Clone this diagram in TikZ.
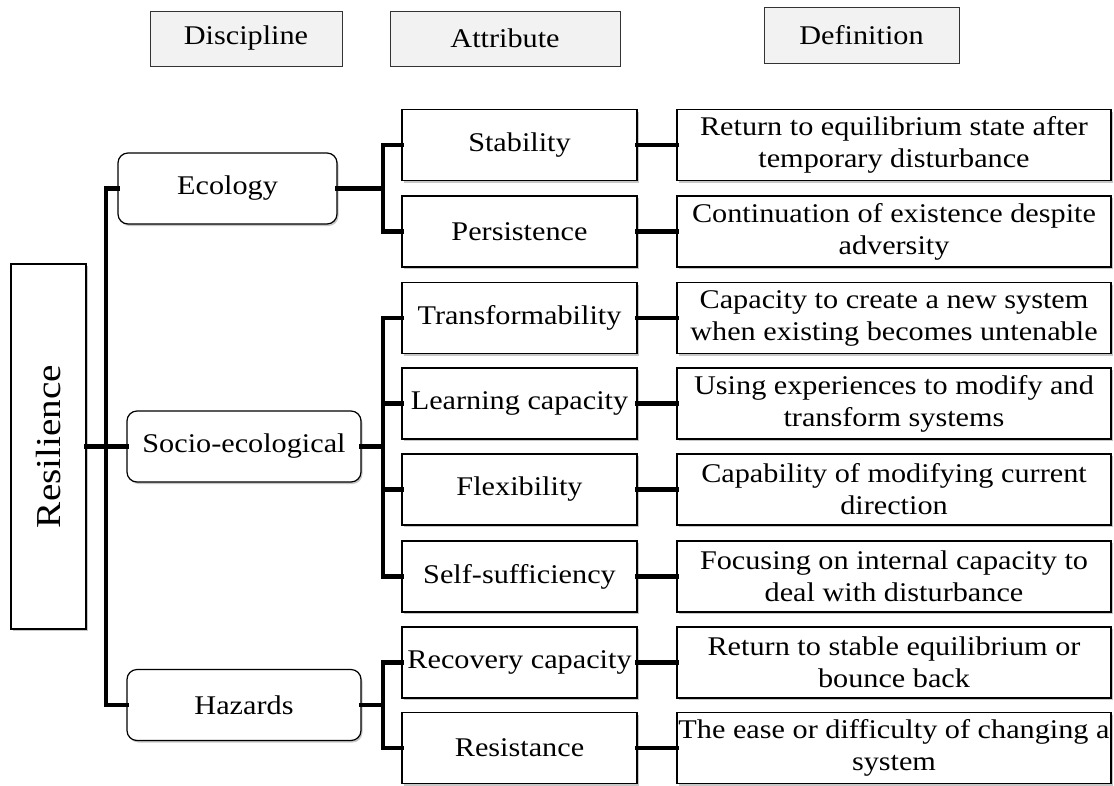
\documentclass[tikz,border=0pt]{standalone}
\usepackage{fontspec}
\setmainfont[FakeStretch=1.12]{Liberation Serif}
\usetikzlibrary{shadows}

\begin{document}
\begin{tikzpicture}[x=1pt,y=-1pt,
  every node/.style={font=\fontsize{27}{32}\selectfont, inner sep=0pt, align=center},
  boxshadow/.style={drop shadow={shadow xshift=1.5pt, shadow yshift=-2pt, opacity=0.22, fill=black}},
  hdrbox/.style={draw=black!80, fill=black!5, line width=1pt},
  discbox/.style={draw=black, fill=white, line width=1.2pt, rounded corners=10pt,
                  minimum height=71pt, boxshadow},
  attrbox/.style={draw=black, fill=white, line width=1.2pt, minimum width=235pt,
                  minimum height=71pt, boxshadow},
  defbox/.style={draw=black, fill=white, line width=1.2pt, minimum width=434pt,
                 minimum height=71pt, boxshadow},
  rootbox/.style={draw=black, fill=white, line width=1.2pt, boxshadow},
  conn/.style={line width=4.5pt, line join=miter, line cap=rect}
]
\useasboundingbox (0,0) rectangle (1114,785);

% column headings
\node[hdrbox, minimum width=192pt, minimum height=55pt] (hdisc) at (246,38.5) {Discipline};
\node[hdrbox, minimum width=230pt, minimum height=55pt] (hattr) at (505,38.5) {Attribute};
\node[hdrbox, minimum width=195pt, minimum height=56pt] (hdef) at (861.5,35) {Definition};

% branch junctions
\coordinate (trtop) at (106,188.5);
\coordinate (trbot) at (106,705);
\coordinate (jeco) at (383,188.5);
\coordinate (jsoc) at (383,446.5);
\coordinate (jhaz) at (383,705);

% root
\node[rootbox, minimum width=75pt, minimum height=365pt] (res) at (48.5,446.5) {};
\node[rotate=90, font=\fontsize{35}{38}\selectfont] (reslabel) at (res.center) {Resilience};

% disciplines
\node[discbox, minimum width=219pt] (eco) at (227.5,188.5) {Ecology};
\node[discbox, minimum width=234pt] (soc) at (244,446.5) {Socio-ecological};
\node[discbox, minimum width=234pt] (haz) at (244,705) {Hazards};

% attributes
\node[attrbox] (a1) at (519.5,145) {Stability};
\node[attrbox] (a2) at (519.5,231.5) {Persistence};
\node[attrbox] (a3) at (519.5,318) {Transformability};
\node[attrbox] (a4) at (519.5,403.5) {Learning capacity};
\node[attrbox] (a5) at (519.5,489.5) {Flexibility};
\node[attrbox] (a6) at (519.5,576.5) {Self-sufficiency};
\node[attrbox] (a7) at (519.5,662.5) {Recovery capacity};
\node[attrbox] (a8) at (519.5,748) {Resistance};

% definitions
\node[defbox] (d1) at (894,145) {Return to equilibrium state after\\temporary disturbance};
\node[defbox] (d2) at (894,231.5) {Continuation of existence despite\\adversity};
\node[defbox] (d3) at (894,318) {Capacity to create a new system\\when existing becomes untenable};
\node[defbox] (d4) at (894,403.5) {Using experiences to modify and\\transform systems};
\node[defbox] (d5) at (894,489.5) {Capability of modifying current\\direction};
\node[defbox] (d6) at (894,576.5) {Focusing on internal capacity to\\deal with disturbance};
\node[defbox] (d7) at (894,662.5) {Return to stable equilibrium or\\bounce back};
\node[defbox] (d8) at (894,748) {The ease or difficulty of changing a\\system};

% trunk: root to disciplines
\draw[conn] (eco.west) -- (trtop) -- (trbot) -- (haz.west);
\draw[conn] (res.east) -- (soc.west);

% discipline to attribute branches
\draw[conn] (eco.east) -- (jeco);
\draw[conn] (a1.west) -| (jeco) |- (a2.west);
\draw[conn] (soc.east) -- (jsoc);
\draw[conn] (a3.west) -| (jsoc) |- (a6.west);
\draw[conn] (a4.west) -- (a4.west -| jsoc);
\draw[conn] (a5.west) -- (a5.west -| jsoc);
\draw[conn] (haz.east) -- (jhaz);
\draw[conn] (a7.west) -| (jhaz) |- (a8.west);

% attribute to definition
\foreach \i in {1,...,8} {
  \draw[conn] (a\i.east) -- (d\i.west);
}
\end{tikzpicture}
\end{document}
